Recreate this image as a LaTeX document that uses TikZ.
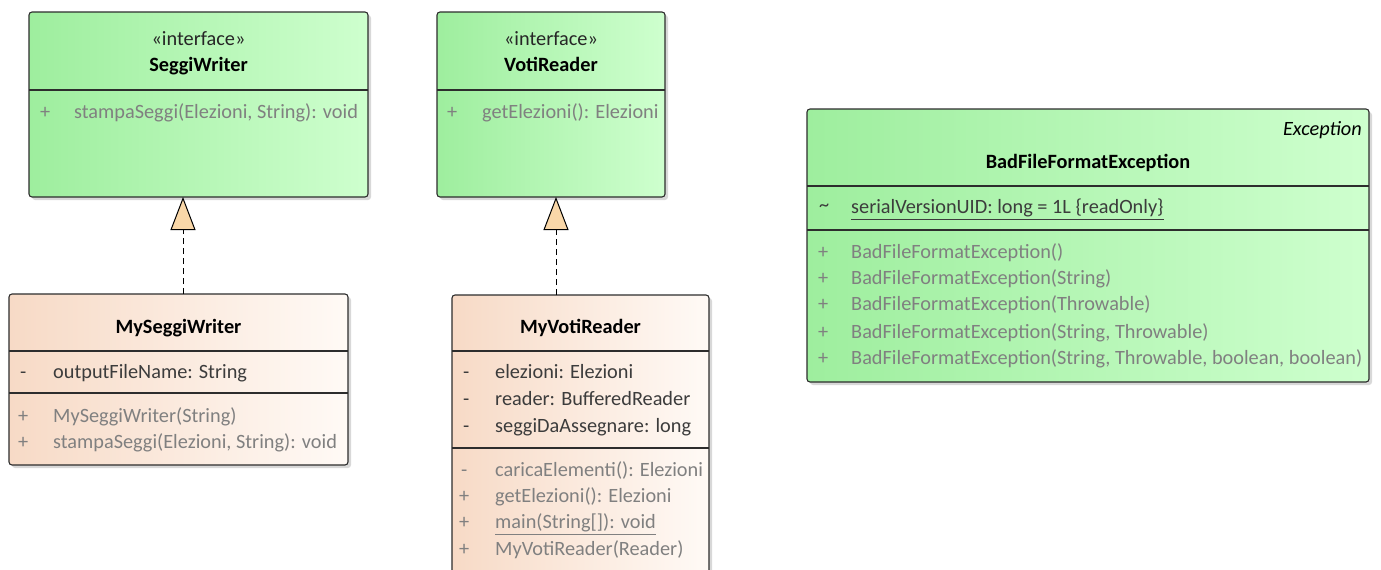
\documentclass[tikz,border=0pt]{standalone}
\usepackage{fontspec}
\setmainfont{Carlito}
\usetikzlibrary{arrows.meta,shadows}
\definecolor{bordercol}{RGB}{45,45,45}
\definecolor{gL}{RGB}{158,238,158}
\definecolor{gR}{RGB}{206,255,206}
\definecolor{pL}{RGB}{247,218,198}
\definecolor{pR}{RGB}{255,250,246}
\definecolor{tri}{RGB}{249,215,168}
\definecolor{attrcol}{RGB}{60,60,60}
\definecolor{methcol}{RGB}{128,128,128}
\begin{document}
\begin{tikzpicture}[x=1pt,y=-1pt,
  cls/.style={draw=bordercol, line width=1.1pt, rounded corners=3pt, outer sep=0pt, inner sep=0pt, anchor=north west,
    drop shadow={shadow xshift=3pt, shadow yshift=-3pt, opacity=0.3, fill=black!50}},
  ifc/.style={cls, left color=gL, right color=gR},
  impl/.style={cls, left color=pL, right color=pR},
  txt/.style={font=\fontsize{20.3}{24}\selectfont, inner sep=0pt, anchor=mid west, yshift=-4.5pt},
  ttl/.style={txt, font=\fontsize{20.3}{24}\selectfont\bfseries, text=black, anchor=mid},
  stereo/.style={txt, text=black!85, anchor=mid},
  attr/.style={txt, text=attrcol},
  meth/.style={txt, text=methcol},
  divider/.style={draw=bordercol, line width=1.1pt},
  real/.style={draw=black, line width=1pt, dash pattern=on 6pt off 4pt,
    -{Triangle[length=33pt, width=25pt, fill=tri, line width=1pt]}}
]
\useasboundingbox (0,0) rectangle (1381,570);
\clip (0,0) rectangle (1381,570);
\fill[white] (0,0) rectangle (1381,570);

% SeggiWriter
\node[ifc, minimum width=339pt, minimum height=185pt] (seggi) at (29,12) {};
\draw[divider] (29,90) -- (368,90);
\node[stereo] (seggi-st) at (198.5,39) {«interface»};
\node[ttl] (seggi-t) at (198.5,65) {SeggiWriter};
\node[meth] (seggi-v1) at (40,112) {+};
\node[meth] (seggi-m1) at (74,112) {stampaSeggi(Elezioni, String): void};

% VotiReader
\node[ifc, minimum width=228pt, minimum height=185pt] (voti) at (437,12) {};
\draw[divider] (437,90) -- (665,90);
\node[stereo] (voti-st) at (551,39) {«interface»};
\node[ttl] (voti-t) at (551,65) {VotiReader};
\node[meth] (voti-v1) at (447,112) {+};
\node[meth] (voti-m1) at (482,112) {getElezioni(): Elezioni};

% MySeggiWriter
\node[impl, minimum width=339pt, minimum height=171pt] (myseggi) at (9,294) {};
\draw[divider] (9,351) -- (348,351);
\draw[divider] (9,393) -- (348,393);
\node[ttl] (myseggi-t) at (178.5,327) {MySeggiWriter};
\node[attr] (myseggi-v1) at (20,372) {-};
\node[attr] (myseggi-a1) at (53,372) {outputFileName: String};
\node[meth] (myseggi-v2) at (18,416) {+};
\node[meth] (myseggi-m1) at (53,416) {MySeggiWriter(String)};
\node[meth] (myseggi-v3) at (18,442) {+};
\node[meth] (myseggi-m2) at (53,442) {stampaSeggi(Elezioni, String): void};

% MyVotiReader
\node[impl, minimum width=257pt, minimum height=300pt] (myvoti) at (452,295) {};
\draw[divider] (452,351) -- (709,351);
\draw[divider] (452,448) -- (709,448);
\node[ttl] (myvoti-t) at (580.5,327) {MyVotiReader};
\node[attr] (myvoti-v1) at (463,372) {-};
\node[attr] (myvoti-a1) at (495,372) {elezioni: Elezioni};
\node[attr] (myvoti-v2) at (463,399) {-};
\node[attr] (myvoti-a2) at (495,399) {reader: BufferedReader};
\node[attr] (myvoti-v3) at (463,426) {-};
\node[attr] (myvoti-a3) at (495,426) {seggiDaAssegnare: long};
\node[meth] (myvoti-v4) at (461,470) {-};
\node[meth] (myvoti-m1) at (495,470) {caricaElementi(): Elezioni};
\node[meth] (myvoti-v5) at (459,496) {+};
\node[meth] (myvoti-m2) at (495,496) {getElezioni(): Elezioni};
\node[meth] (myvoti-v6) at (459,522) {+};
\node[meth] (myvoti-m3) at (495,522) {\underline{main(String[]): void}};
\node[meth] (myvoti-v7) at (459,549) {+};
\node[meth] (myvoti-m4) at (495,549) {MyVotiReader(Reader)};

% BadFileFormatException
\node[ifc, minimum width=562pt, minimum height=273pt] (bad) at (807,109) {};
\draw[divider] (807,186) -- (1369,186);
\draw[divider] (807,230) -- (1369,230);
\node[txt, anchor=mid east, font=\fontsize{20.3}{24}\selectfont\itshape, text=black] (bad-st) at (1362,129) {Exception};
\node[ttl] (bad-t) at (1088,162) {BadFileFormatException};
\node[attr] (bad-v1) at (819,205) {\textasciitilde};
\node[attr] (bad-a1) at (851,207) {\underline{serialVersionUID: long = 1L \{readOnly\}}};
\node[meth] (bad-v2) at (818,252) {+};
\node[meth] (bad-m1) at (851,252) {BadFileFormatException()};
\node[meth] (bad-v3) at (818,278) {+};
\node[meth] (bad-m2) at (851,278) {BadFileFormatException(String)};
\node[meth] (bad-v4) at (818,304) {+};
\node[meth] (bad-m3) at (851,304) {BadFileFormatException(Throwable)};
\node[meth] (bad-v5) at (818,332) {+};
\node[meth] (bad-m4) at (851,332) {BadFileFormatException(String, Throwable)};
\node[meth] (bad-v6) at (818,358) {+};
\node[meth] (bad-m5) at (851,358) {BadFileFormatException(String, Throwable, boolean, boolean)};

% realizations
\draw[real] ([xshift=4.5pt]myseggi.north) -- ([xshift=-15.5pt]seggi.south);
\draw[real] ([xshift=-24.5pt]myvoti.north) -- ([xshift=5pt]voti.south);
\end{tikzpicture}
\end{document}
